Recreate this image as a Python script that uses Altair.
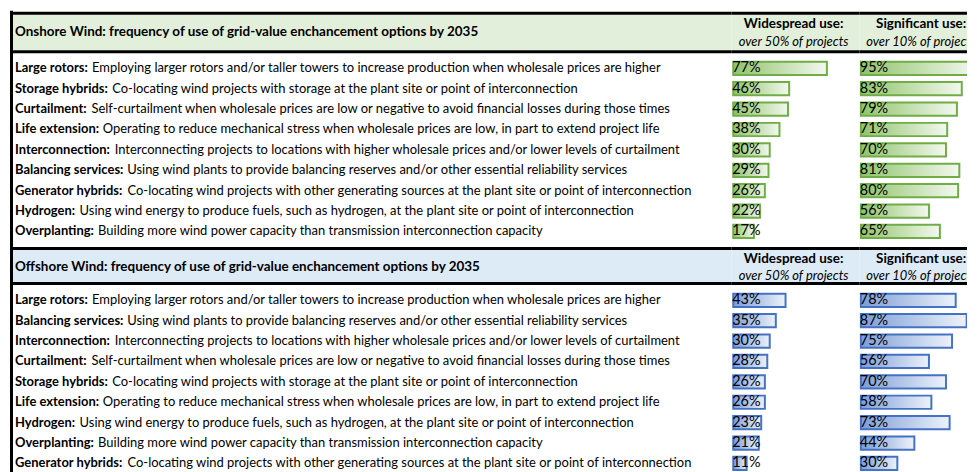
import altair as alt
import pandas as pd

# ---------------- data ----------------
onshore_options = ["Large rotors", "Storage hybrids", "Curtailment", "Life extension", "Interconnection",
                   "Balancing services", "Generator hybrids", "Hydrogen", "Overplanting"]
onshore_widespread = [77, 46, 45, 38, 30, 29, 26, 22, 17]
onshore_significant = [95, 83, 79, 71, 70, 81, 80, 56, 65]

offshore_options = ["Large rotors", "Balancing services", "Interconnection", "Curtailment", "Storage hybrids",
                    "Life extension", "Hydrogen", "Overplanting", "Generator hybrids"]
offshore_widespread = [43, 35, 30, 28, 26, 26, 23, 21, 11]
offshore_significant = [78, 87, 75, 56, 70, 58, 73, 44, 30]

descriptions = {
    "Large rotors": "Employing larger rotors and/or taller towers to increase production when wholesale prices are higher",
    "Storage hybrids": "Co-locating wind projects with storage at the plant site or point of interconnection",
    "Curtailment": "Self-curtailment when wholesale prices are low or negative to avoid financial losses during those times",
    "Life extension": "Operating to reduce mechanical stress when wholesale prices are low, in part to extend project life",
    "Interconnection": "Interconnecting projects to locations with higher wholesale prices and/or lower levels of curtailment",
    "Balancing services": "Using wind plants to provide balancing reserves and/or other essential reliability services",
    "Generator hybrids": "Co-locating wind projects with other generating sources at the plant site or point of interconnection",
    "Hydrogen": "Using wind energy to produce fuels, such as hydrogen, at the plant site or point of interconnection",
    "Overplanting": "Building more wind power capacity than transmission interconnection capacity",
}

section_titles = ["Onshore Wind: frequency of use of grid-value enchancement options by 2035",
                  "Offshore Wind: frequency of use of grid-value enchancement options by 2035"]
column_titles = ["Widespread use:", "Significant use:"]
column_subtitles = ["over 50% of projects", "over 10% of projects"]

# ---------------- style ----------------
FONT = "Lato"
FS_TITLE = 13.5
FS_BOLD = 13.0
FS_REG = 13.0
PCT_FS = 14.5

BOLD_EM = {
    'A': .67, 'B': .63, 'C': .64, 'D': .72, 'E': .55, 'F': .53, 'G': .70, 'H': .74, 'I': .29, 'J': .40,
    'K': .66, 'L': .50, 'M': .88, 'N': .74, 'O': .77, 'P': .60, 'Q': .77, 'R': .62, 'S': .52, 'T': .58,
    'U': .71, 'V': .67, 'W': 1.0, 'X': .65, 'Y': .62, 'Z': .59,
    'a': .50, 'b': .56, 'c': .46, 'd': .56, 'e': .52, 'f': .34, 'g': .50, 'h': .56, 'i': .25, 'j': .25,
    'k': .52, 'l': .25, 'm': .84, 'n': .56, 'o': .56, 'p': .56, 'q': .56, 'r': .38, 's': .43, 't': .36,
    'u': .56, 'v': .51, 'w': .77, 'x': .51, 'y': .51, 'z': .45, ' ': .19, ':': .27,
}


def bold_width(s, size):
    return 1.03 * sum(BOLD_EM.get(c, 0.55) for c in s) * size


# the page body is 961px wide: the three panels together stay within it
LABEL_W, COL1_W, COL2_W = 725, 128, 108
STEP = 20.45
TEXT_X = 6

sections = [
    dict(options=onshore_options, ws=onshore_widespread, sig=onshore_significant, title=section_titles[0],
         height=237, top=2.5, band=(4, 39.7), line=41.2, title_y=21.5, h1=13.5, h2=31, first=57.8,
         band_color="#E2EFDA", bar_color="#70AD47", grad=("#8FC46B", "#F3F8EF")),
    dict(options=offshore_options, ws=offshore_widespread, sig=offshore_significant, title=section_titles[1],
         height=227, top=1.5, band=(3, 35.2), line=36.7, title_y=20.5, h1=12.5, h2=29.5, first=53.5,
         band_color="#DDEBF7", bar_color="#4472C4", grad=("#7C9DD6", "#EDF2FA")),
]


def one_row():
    return alt.Chart(pd.DataFrame({"k": [0]}))


def hrule(y, x1, x2, w=3):
    return one_row().mark_rule(color="black", strokeWidth=w).encode(
        x=alt.value(x1), x2=alt.value(x2), y=alt.value(y))


def band_rect(s, x1, x2):
    return one_row().mark_rect(color=s["band_color"]).encode(
        x=alt.value(x1), x2=alt.value(x2), y=alt.value(s["band"][0]), y2=alt.value(s["band"][1]))


def y_enc(s):
    r0 = s["first"] - STEP / 2
    return alt.Y("option:N", sort=s["options"], axis=None,
                 scale=alt.Scale(range=[r0, r0 + 9 * STEP], paddingInner=0.35, paddingOuter=0.175))


def section_df(s):
    df = pd.DataFrame({"option": s["options"], "ws": s["ws"], "sig": s["sig"]})
    df["label"] = df["option"] + ":"
    df["desc"] = df["option"].map(descriptions)
    df["desc_x"] = [TEXT_X + bold_width(l, FS_BOLD) + 3.2 for l in df["label"]]
    return df


def label_panel(s, df):
    base = alt.Chart(df)
    title = one_row().mark_text(align="left", baseline="middle", font=FONT, fontSize=FS_TITLE,
                                fontWeight="bold", color="black").encode(
        x=alt.value(TEXT_X), y=alt.value(s["title_y"]), text=alt.value(s["title"]))
    bold = base.mark_text(align="left", baseline="middle", font=FONT, fontSize=FS_BOLD,
                          fontWeight="bold", color="black").encode(
        x=alt.value(TEXT_X), y=y_enc(s), text="label:N")
    reg = base.mark_text(align="left", baseline="middle", font=FONT, fontSize=FS_REG, color="black").encode(
        x=alt.X("desc_x:Q", scale=None), y=y_enc(s), text="desc:N")
    vline = one_row().mark_rule(color="black", strokeWidth=3).encode(
        x=alt.value(2.5), y=alt.value(0), y2=alt.value(s["height"]))
    return alt.layer(band_rect(s, 1, LABEL_W), title, bold, reg,
                     hrule(s["top"], 1, LABEL_W), hrule(s["line"], 1, LABEL_W), vline).properties(
        width=LABEL_W, height=s["height"])


def value_panel(s, df, field, idx, width):
    base = alt.Chart(df).transform_calculate(txt=f"datum.{field} + '%'")
    grad = alt.LinearGradient(gradient="linear", x1=0, x2=1, y1=0, y2=0,
                              stops=[alt.GradientStop(color=s["grad"][0], offset=0),
                                     alt.GradientStop(color=s["grad"][1], offset=1)])
    bars = base.mark_bar(fill=grad, stroke=s["bar_color"], strokeWidth=2, clip=True).encode(
        x=alt.X(f"{field}:Q", axis=None, scale=alt.Scale(domain=[0, 100], range=[1.5, 123.5])),
        y=y_enc(s))
    pct = base.mark_text(align="left", baseline="middle", font=FONT, fontSize=PCT_FS, color="black").encode(
        x=alt.value(0.5), y=y_enc(s), text="txt:N")
    h1 = one_row().mark_text(align="center", baseline="middle", font=FONT, fontSize=FS_TITLE,
                             fontWeight="bold", color="black", clip=True).encode(
        x=alt.value(62), y=alt.value(s["h1"]), text=alt.value(column_titles[idx]))
    h2 = one_row().mark_text(align="center", baseline="middle", font=FONT, fontSize=13.0,
                             fontStyle="italic", color="black", clip=True).encode(
        x=alt.value(62), y=alt.value(s["h2"]), text=alt.value(column_subtitles[idx]))
    return alt.layer(band_rect(s, 0, width), h1, h2, bars, pct,
                     hrule(s["top"], 0, width), hrule(s["line"], 0, width)).properties(
        width=width, height=s["height"])


panels = []
for s in sections:
    df = section_df(s)
    panels += [label_panel(s, df), value_panel(s, df, "ws", 0, COL1_W), value_panel(s, df, "sig", 1, COL2_W)]

chart = (alt.concat(*panels, columns=3, spacing=0, bounds="flush")
         .resolve_scale(x="independent", y="independent")
         .properties(padding={"left": 0, "top": 0, "right": 0, "bottom": 0})
         .configure_view(stroke=None))

chart.save("out.html", embed_options={"renderer": "svg", "actions": False})
